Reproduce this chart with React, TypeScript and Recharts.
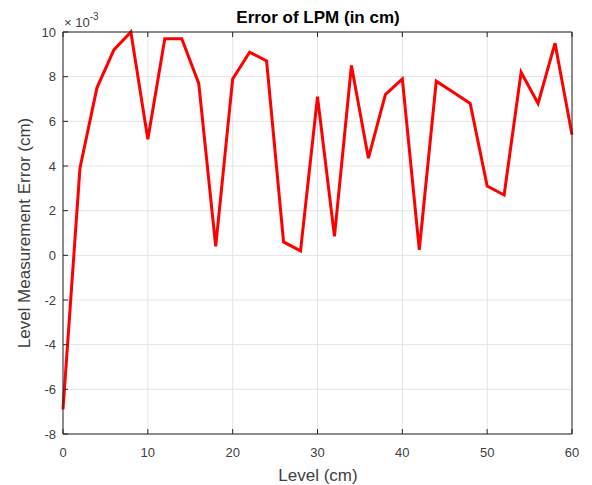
import React from "react";
import { LineChart, Line, XAxis, YAxis, CartesianGrid } from "recharts";

// level (cm) and the LPM error, in units of 1e-3 cm
const levels = [0, 2, 4, 6, 8, 10, 12, 14, 16, 18, 20, 22, 24, 26, 28, 30, 32, 34, 36, 38, 40, 42, 44, 46, 48, 50, 52, 54, 56, 58, 60];
const errors = [-6.9, 3.9, 7.5, 9.2, 10, 5.2, 9.7, 9.7, 7.7, 0.4, 7.9, 9.1, 8.7, 0.6, 0.2, 7.1, 0.85, 8.5, 4.35, 7.2, 7.9, 0.25, 7.8, 7.3, 6.8, 3.1, 2.7, 8.2, 6.8, 9.5, 5.4];

const xTicks = [0, 10, 20, 30, 40, 50, 60];
const yTicks = [-8, -6, -4, -2, 0, 2, 4, 6, 8, 10];

const data = levels.map((lv, i) => ({ level: lv, err: errors[i] }));

const FONT = '"Liberation Sans", Arial, Helvetica, sans-serif';
const AX = "#262626";
const TXT = "#404040";

const BottomTick = (p: any) => (
  <g>
    <line x1={p.x} y1={p.y} x2={p.x} y2={p.y - 5} stroke={AX} />
    <text x={p.x} y={p.y + 23} textAnchor="middle" fontSize={13} fontFamily={FONT} fill={TXT}>
      {p.payload.value}
    </text>
  </g>
);

const TopTick = (p: any) => <line x1={p.x} y1={p.y} x2={p.x} y2={p.y + 5} stroke={AX} />;

const LeftTick = (p: any) => (
  <g>
    <line x1={p.x} y1={p.y} x2={p.x + 5} y2={p.y} stroke={AX} />
    <text x={p.x - 7} y={p.y + 4.5} textAnchor="end" fontSize={13} fontFamily={FONT} fill={TXT}>
      {p.payload.value}
    </text>
  </g>
);

const RightTick = (p: any) => <line x1={p.x} y1={p.y} x2={p.x - 5} y2={p.y} stroke={AX} />;

export default function App() {
  return (
    <div style={{ position: "absolute", left: 0, top: 0, width: 592, height: 485, background: "#fff" }}>
      <LineChart width={592} height={485} data={data} margin={{ top: 31, right: 19, bottom: 0, left: 0 }}>
        <CartesianGrid xAxisId="b" yAxisId="l" stroke="#e3e3e3" strokeWidth={1} />
        <XAxis
          xAxisId="b"
          dataKey="level"
          type="number"
          domain={[0, 60]}
          ticks={xTicks}
          interval={0}
          height={51}
          tickSize={0}
          tickMargin={0}
          tickLine={false}
          stroke={AX}
          tick={<BottomTick />}
        />
        <XAxis
          xAxisId="t"
          orientation="top"
          dataKey="level"
          type="number"
          domain={[0, 60]}
          ticks={xTicks}
          interval={0}
          height={1}
          tickSize={0}
          tickMargin={0}
          tickLine={false}
          stroke={AX}
          tick={<TopTick />}
        />
        <YAxis
          yAxisId="l"
          type="number"
          domain={[-8, 10]}
          ticks={yTicks}
          interval={0}
          width={63}
          tickSize={0}
          tickMargin={0}
          tickLine={false}
          stroke={AX}
          tick={<LeftTick />}
        />
        <YAxis
          yAxisId="r"
          orientation="right"
          type="number"
          domain={[-8, 10]}
          ticks={yTicks}
          interval={0}
          width={1}
          tickSize={0}
          tickMargin={0}
          tickLine={false}
          stroke={AX}
          tick={<RightTick />}
        />
        <Line
          xAxisId="b"
          yAxisId="l"
          type="linear"
          dataKey="err"
          stroke="#ff0000"
          strokeWidth={3}
          dot={false}
          isAnimationActive={false}
        />
      </LineChart>
      <svg width={592} height={485} style={{ position: "absolute", left: 0, top: 0, pointerEvents: "none" }}>
        <text x={318} y={23} textAnchor="middle" fontSize={17} fontWeight="bold" fontFamily={FONT} fill="#000">
          Error of LPM (in cm)
        </text>
        <text x={64} y={27} fontSize={13} fontFamily={FONT} fill={TXT}>
          {"\u00d7 10"}
          <tspan dy={-7} fontSize={10}>-3</tspan>
        </text>
        <text x={318} y={481} textAnchor="middle" fontSize={17} fontFamily={FONT} fill={TXT}>
          Level (cm)
        </text>
        <text
          x={30}
          y={233}
          transform="rotate(-90 30 233)"
          textAnchor="middle"
          fontSize={17}
          fontFamily={FONT}
          fill={TXT}
        >
          Level Measurement Error (cm)
        </text>
      </svg>
    </div>
  );
}
